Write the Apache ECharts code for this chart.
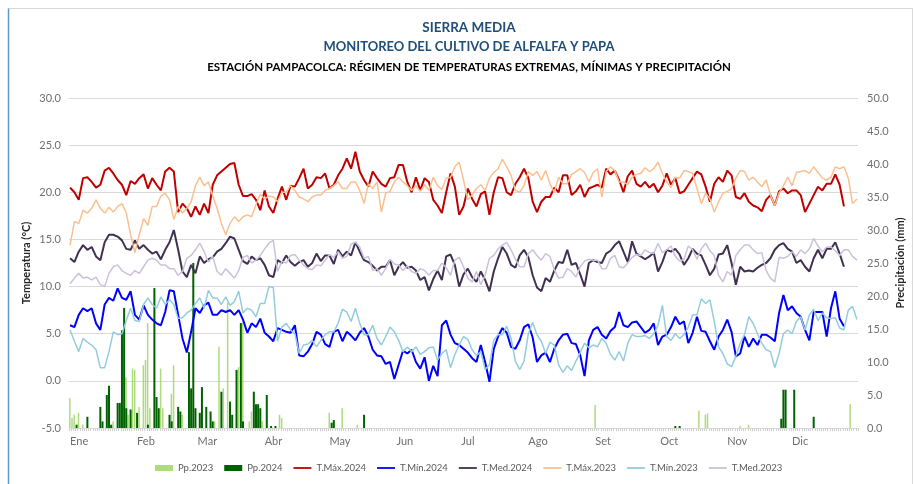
<!DOCTYPE html>
<html>
<head>
<meta charset="utf-8">
<title>Sierra Media - Estación Pampacolca</title>
<script src="https://cdn.jsdelivr.net/npm/echarts@6/dist/echarts.min.js"></script>
<style>
  html, body { margin: 0; padding: 0; background: #fff; }
  #chart { width: 914px; height: 484px; }
</style>
</head>
<body>
<div id="chart"></div>
<script>
const FONT = 'Lato, "Open Sans", sans-serif'

const months = ['Ene', 'Feb', 'Mar', 'Abr', 'May', 'Jun', 'Jul', 'Ago', 'Set', 'Oct', 'Nov', 'Dic']
const monthDays = [31, 28, 31, 30, 31, 30, 31, 31, 30, 31, 30, 31]
const tempTicks = [-5, 0, 5, 10, 15, 20, 25, 30]
const precipTicks = [0, 5, 10, 15, 20, 25, 30, 35, 40, 45, 50]

// temperatures (°C) every 2 days, starting on 1 Ene
const STEP = 2
const tmax2024 = [
  20.5, 20.0, 19.2, 21.5, 21.6, 21.1, 20.5, 20.8, 22.3, 22.6, 22.0, 21.3, 20.8, 19.7, 21.2, 20.9,
  21.5, 21.9, 20.4, 21.5, 20.8, 20.2, 22.2, 22.6, 22.2, 17.9, 18.8, 18.3, 17.4, 18.5, 17.6, 18.8,
  17.8, 20.8, 21.8, 22.2, 22.6, 23.0, 23.1, 20.8, 19.6, 19.6, 19.8, 19.2, 18.1, 20.2, 18.5, 17.8,
  19.3, 20.6, 19.2, 20.7, 20.6, 21.5, 22.5, 20.4, 20.8, 21.6, 21.5, 22.0, 20.4, 20.8, 21.8, 22.5,
  23.6, 22.5, 24.3, 22.2, 21.3, 20.6, 22.2, 21.5, 20.9, 20.6, 21.5, 21.6, 22.9, 22.9, 21.1, 20.0,
  21.6, 20.2, 21.5, 21.1, 19.2, 18.6, 17.8, 20.0, 22.0, 20.6, 17.6, 18.5, 20.4, 19.3, 18.5,
  19.8, 20.1, 17.6, 20.0, 21.6, 21.5, 20.0, 19.7, 20.9, 21.6, 22.5, 21.5, 19.0, 17.9, 19.0, 19.5,
  19.5, 20.5, 20.0, 21.8, 21.8, 19.7, 20.1, 20.8, 19.5, 20.4, 20.6, 20.8, 20.5, 22.5, 21.9, 22.3,
  21.3, 20.0, 21.7, 22.3, 20.9, 20.6, 21.1, 20.5, 20.9, 20.0, 20.7, 22.0, 20.8,
  21.5, 19.9, 20.1, 20.8, 21.5, 22.2, 21.9, 20.6, 19.0, 20.9, 21.6, 21.1, 22.3, 21.8, 19.5, 19.3,
  19.9, 19.0, 18.6, 18.4, 18.0, 19.2, 19.7, 18.6, 20.1, 20.4, 19.9, 20.2, 20.2, 19.7, 17.9, 18.8,
  19.7, 20.6, 20.2, 20.9, 20.9, 21.9, 20.8, 18.5
]
const tmin2024 = [
  5.9, 5.7, 7.0, 7.7, 7.4, 7.7, 6.1, 5.4, 8.1, 8.8, 8.5, 9.8, 8.8, 8.6, 9.5, 7.0,
  6.5, 8.0, 7.0, 6.5, 6.1, 5.9, 7.3, 9.6, 9.5, 7.0, 4.5, 3.0, 5.2, 7.7, 7.2, 8.0,
  8.3, 7.0, 7.0, 7.5, 7.3, 7.5, 7.0, 7.5, 6.5, 5.1, 6.1, 5.7, 6.6, 5.1, 4.7, 4.2,
  5.6, 5.4, 5.2, 5.1, 5.9, 2.7, 2.6, 3.1, 3.9, 5.2, 4.9, 3.9, 3.6, 5.2, 5.4, 4.2,
  5.2, 4.8, 4.3, 5.1, 5.6, 4.7, 3.3, 2.7, 2.6, 1.8, 2.0, 0.2, 1.7, 3.2, 2.9, 3.3,
  2.0, 1.3, 2.5, 0.0, 1.6, 0.5, 5.9, 6.4, 4.9, 4.0, 3.8, 3.4, 3.0, 2.4, 2.0,
  3.8, 2.0, -0.1, 3.4, 4.7, 5.6, 5.1, 3.6, 3.4, 4.3, 5.7, 6.0, 4.6, 2.0, 2.7, 3.0,
  2.0, 3.4, 4.3, 4.9, 5.0, 4.0, 3.9, 2.7, 0.5, 4.3, 5.4, 5.7, 4.9, 4.5, 5.3, 5.7,
  7.3, 5.9, 5.7, 6.2, 6.3, 5.7, 5.1, 5.4, 6.1, 3.8, 4.7, 4.9, 5.7,
  6.8, 6.0, 6.3, 4.0, 5.1, 6.8, 5.3, 5.2, 4.2, 3.3, 4.7, 5.4, 6.5, 5.2, 2.6, 2.9,
  4.7, 3.6, 4.5, 3.8, 4.9, 4.9, 4.6, 4.2, 7.2, 9.1, 7.5, 7.9, 7.2, 6.8, 5.4, 4.3,
  7.3, 7.3, 7.3, 4.7, 7.7, 9.5, 6.6, 5.8
]
const tmed2024 = [
  13.0, 12.6, 13.7, 14.4, 13.9, 14.2, 13.2, 12.8, 14.7, 15.5, 15.5, 15.3, 14.9, 14.0, 13.9, 14.9,
  14.0, 14.4, 13.9, 13.5, 13.7, 12.9, 13.9, 14.7, 16.0, 13.9, 11.6, 11.0, 12.3, 11.4, 13.2, 12.5,
  12.9, 13.1, 13.7, 14.0, 14.6, 15.3, 15.1, 13.9, 12.7, 12.4, 13.2, 12.8, 13.0, 12.3, 11.2, 11.0,
  12.8, 12.5, 13.3, 12.6, 12.2, 12.6, 12.8, 12.1, 12.5, 13.5, 12.7, 13.3, 13.3, 12.4, 13.9, 13.2,
  13.7, 13.3, 14.7, 13.7, 12.8, 12.6, 12.2, 11.7, 12.1, 12.1, 12.8, 11.2, 12.1, 12.6, 12.0, 12.1,
  11.7, 10.7, 11.0, 9.6, 10.8, 11.7, 10.7, 13.2, 13.4, 12.3, 10.0, 11.3, 11.9, 11.0, 10.5,
  11.6, 10.7, 9.5, 11.6, 13.0, 14.2, 13.5, 12.3, 12.0, 13.3, 13.9, 13.1, 11.2, 9.9, 9.5, 10.9,
  10.5, 11.7, 12.6, 12.5, 13.9, 12.3, 12.5, 11.3, 10.0, 12.5, 12.8, 12.6, 12.5, 13.5, 13.8, 14.4,
  14.8, 13.7, 12.6, 14.8, 13.5, 13.2, 12.9, 13.2, 13.6, 11.6, 12.6, 13.9, 13.7,
  14.0, 13.4, 12.3, 13.0, 14.0, 13.5, 13.3, 12.3, 11.2, 11.9, 13.4, 13.5, 14.4, 12.5, 10.2, 12.1,
  11.6, 11.7, 11.6, 12.0, 12.3, 12.5, 13.0, 13.9, 14.4, 14.6, 14.0, 13.7, 12.5, 12.8, 12.1, 11.6,
  13.0, 13.9, 13.0, 14.0, 14.0, 14.7, 13.5, 12.1
]
const tmax2023 = [
  14.4, 16.9, 16.7, 18.1, 17.8, 18.3, 19.2, 18.3, 17.8, 18.4, 17.9, 18.5, 18.8, 17.8, 15.5, 13.6,
  15.5, 17.2, 16.5, 18.5, 18.5, 19.6, 19.9, 19.2, 17.1, 18.5, 17.8, 18.3, 19.0, 20.7, 21.6, 20.7,
  21.1, 19.6, 18.3, 16.7, 15.5, 16.7, 17.4, 16.9, 17.4, 17.6, 17.4, 18.7, 19.8, 19.3, 19.6, 19.5,
  19.0, 20.0, 20.0, 20.7, 20.2, 19.5, 19.3, 19.0, 19.5, 19.7, 19.7, 20.2, 20.4, 20.7, 21.1, 20.4,
  20.4, 21.1, 21.1, 20.2, 18.8, 20.9, 20.4, 21.1, 17.9, 19.9, 20.1, 21.1, 21.6, 21.1, 20.7, 20.2,
  20.7, 20.1, 20.8, 20.2, 21.6, 20.7, 20.3, 21.5, 21.6, 22.7, 23.2, 21.3, 19.2, 19.7, 20.4,
  20.8, 20.2, 21.5, 22.1, 22.5, 23.5, 22.7, 21.8, 20.2, 20.0, 20.7, 22.2, 21.8, 22.2, 21.3, 22.3,
  20.9, 20.0, 21.6, 20.9, 20.9, 21.9, 22.2, 22.5, 22.1, 21.1, 22.1, 22.5, 19.5, 22.2, 22.7, 22.3,
  21.1, 21.1, 20.8, 21.6, 21.9, 22.0, 22.6, 22.2, 22.5, 23.2, 22.0, 21.1, 20.5,
  21.6, 21.5, 22.3, 22.2, 22.0, 20.4, 18.8, 19.9, 19.3, 17.9, 19.0, 19.9, 20.1, 20.4, 21.5, 22.3,
  22.2, 21.3, 21.6, 21.1, 20.6, 21.3, 19.7, 18.6, 19.9, 20.7, 21.6, 20.7, 22.1, 22.2, 22.3, 22.0,
  22.7, 22.1, 21.5, 21.3, 21.6, 22.7, 22.5, 22.7, 21.5, 18.8, 19.3
]
const tmin2023 = [
  5.4, 4.2, 3.1, 4.5, 4.1, 3.8, 3.3, 1.4, 1.4, 3.1, 5.2, 4.9, 5.0, 6.4, 7.7, 6.4,
  6.3, 8.1, 8.8, 8.1, 7.7, 8.9, 8.1, 8.6, 8.1, 6.6, 6.7, 7.2, 7.5, 8.2, 8.8, 7.7,
  9.6, 8.8, 8.8, 8.1, 8.9, 8.0, 8.4, 9.5, 7.2, 7.7, 7.5, 6.8, 8.2, 8.2, 10.0, 9.9,
  4.2, 5.7, 6.1, 5.4, 5.0, 2.9, 3.8, 3.9, 4.3, 3.6, 4.3, 4.9, 5.2, 5.2, 6.1, 7.6,
  7.3, 6.3, 7.7, 6.1, 4.9, 4.9, 5.9, 4.5, 3.8, 4.7, 5.7, 5.2, 4.3, 3.1, 3.6, 3.1,
  3.6, 2.8, 3.1, 3.5, 3.6, 2.2, 2.9, 3.3, 1.4, 2.8, 3.8, 4.7, 4.4, 3.3, 2.7,
  3.1, 1.2, 1.7, 4.3, 4.9, 4.9, 5.8, 4.5, 2.1, 1.2, 2.1, 5.0, 6.2, 4.9, 4.2, 2.9,
  4.1, 3.8, 1.7, 0.9, 1.6, 1.1, 2.1, 3.0, 4.0, 3.5, 3.8, 3.6, 4.5, 4.0, 2.8, 2.2,
  3.1, 2.1, 4.0, 4.9, 4.7, 4.7, 4.8, 4.5, 5.0, 5.9, 8.0, 4.7, 4.3,
  5.0, 4.5, 4.9, 5.7, 7.0, 7.0, 8.7, 8.2, 8.6, 6.3, 3.6, 2.9, 1.8, 1.5, 2.6, 4.0,
  4.9, 6.8, 6.1, 5.0, 4.0, 3.3, 3.1, 1.4, 2.9, 5.0, 5.4, 5.0, 6.3, 6.8, 5.4, 7.0,
  7.6, 6.4, 7.2, 6.7, 6.6, 6.7, 5.6, 5.4, 7.5, 7.9, 6.5
]
const tmed2023 = [
  10.3, 10.9, 11.4, 10.9, 11.0, 10.7, 11.0, 10.2, 10.0, 11.4, 12.1, 12.3, 11.7, 11.4, 11.2, 11.7,
  11.4, 12.1, 12.8, 13.0, 12.8, 12.3, 12.3, 11.9, 11.9, 11.2, 11.6, 13.0, 13.3, 13.9, 14.6, 13.7,
  12.6, 13.2, 11.6, 11.2, 11.9, 11.4, 10.9, 11.7, 13.1, 13.3, 12.5, 12.8, 13.3, 14.0, 14.6, 14.9,
  11.6, 12.7, 12.5, 13.3, 13.4, 12.8, 12.3, 11.9, 11.8, 12.3, 12.2, 12.8, 13.4, 13.1, 13.7, 13.0,
  13.2, 14.5, 14.7, 14.2, 13.0, 13.2, 11.7, 11.9, 11.2, 11.9, 12.9, 12.4, 12.3, 11.7, 12.2, 11.6,
  11.4, 11.9, 11.7, 11.2, 11.7, 11.7, 12.5, 12.0, 11.2, 12.8, 13.1, 12.1, 10.9, 10.5, 11.6,
  10.2, 11.2, 13.0, 13.3, 14.0, 14.4, 14.7, 13.9, 12.9, 12.1, 12.1, 13.5, 13.9, 13.3, 12.8, 13.5,
  13.2, 11.8, 10.9, 11.0, 11.9, 11.6, 11.0, 12.1, 12.7, 12.9, 12.8, 12.8, 11.9, 11.9, 13.0, 13.3,
  12.1, 12.0, 12.5, 13.1, 13.4, 13.3, 13.9, 13.6, 13.5, 14.6, 13.6, 13.9, 14.3,
  13.2, 12.7, 12.9, 14.3, 13.9, 12.9, 14.0, 14.6, 13.8, 13.3, 11.2, 10.5, 11.6, 11.2, 13.3, 13.9,
  14.4, 14.4, 13.9, 13.5, 13.6, 11.7, 10.9, 10.5, 13.1, 13.0, 13.2, 13.7, 13.2, 13.9, 13.5, 14.0,
  15.1, 14.3, 13.7, 14.2, 14.2, 13.8, 13.3, 13.9, 13.9, 13.2, 12.8
]

// daily rain (mm) as [day of year, mm]; days not listed had no rain
const pp2023 = [
  [0, 4.5], [1, 1.5], [2, 2.0], [4, 2.3], [6, 0.5], [20, 1.0], [26, 7.7], [27, 2.0], [29, 9.0],
  [30, 8.8], [32, 3.2], [34, 9.5], [35, 10.3], [36, 15.9], [37, 3.0], [42, 9.0], [43, 3.0],
  [47, 5.2], [48, 9.5], [52, 2.0], [55, 1.0], [67, 1.0], [69, 12.3], [71, 6.0], [73, 19.0],
  [78, 9.2], [80, 16.0], [83, 1.0], [84, 2.5], [89, 1.0], [97, 2.0], [98, 1.5], [120, 2.3],
  [126, 3.0], [133, 0.5], [243, 3.5], [291, 2.6], [294, 2.0], [295, 2.2], [310, 0.3], [314, 0.5],
  [361, 3.6]
]
const pp2024 = [
  [3, 0.5], [8, 1.7], [14, 3.2], [15, 1.0], [17, 5.0], [18, 6.4], [19, 0.5], [22, 3.8], [23, 3.8],
  [24, 14.8], [25, 18.2], [26, 3.0], [28, 2.8], [31, 2.3], [36, 0.5], [39, 21.2], [40, 4.7],
  [41, 3.0], [46, 2.0], [47, 1.0], [50, 3.2], [51, 2.5], [55, 11.5], [56, 6.0], [57, 25.0],
  [58, 3.0], [60, 2.3], [61, 6.2], [63, 3.2], [65, 2.5], [66, 1.0], [70, 5.5], [74, 4.0], [75, 2.0],
  [77, 8.8], [79, 15.9], [80, 1.0], [85, 5.5], [86, 3.6], [87, 3.6], [88, 3.0], [91, 5.0],
  [93, 0.3], [95, 0.3], [121, 0.8], [122, 1.2], [136, 2.0], [280, 0.3], [282, 0.3], [329, 1.4],
  [330, 5.8], [331, 5.8], [335, 5.8], [344, 1.7]
]

// one category per day of the year
const days = []
const monthLabelAt = {}
monthDays.forEach((n, m) => {
  monthLabelAt[days.length] = months[m]
  for (let d = 1; d <= n; d++) days.push(d + '-' + months[m])
})

function daily(pairs) {
  const out = days.map(() => null)
  pairs.forEach(([d, v]) => { out[d] = v })
  return out
}
const every = (arr) => arr.map((v, i) => [i * STEP, v])

const lineSeries = (name, data, color, width) => ({
  name,
  type: 'line',
  data: every(data),
  symbol: 'none',
  lineStyle: { color, width },
  itemStyle: { color },
  z: 3
})

const LINE_ICON = 'path://M0,0 L20,0 L20,2 L0,2 Z'
const titleStyle = (text, size, fill) => ({
  text, font: 'bold ' + size + 'px ' + FONT, fill,
  align: 'center', verticalAlign: 'middle', textAlign: 'center', textVerticalAlign: 'middle'
})

const chart = echarts.init(document.getElementById('chart'))

chart.setOption({
  animation: false,
  backgroundColor: '#fff',
  textStyle: { fontFamily: FONT },
  graphic: [
    { type: 'rect', shape: { x: 8.5, y: 8.5, width: 904, height: 480 }, style: { fill: 'none', stroke: '#d9d9d9', lineWidth: 1 } },
    { type: 'line', shape: { x1: 8.5, y1: 8.5, x2: 8.5, y2: 484 }, style: { stroke: '#5b9bd5', lineWidth: 1.5 } },
    { type: 'text', x: 469, y: 28, style: titleStyle('SIERRA MEDIA', 13.5, '#1F4E79') },
    { type: 'text', x: 469, y: 47, style: titleStyle('MONITOREO DEL CULTIVO DE ALFALFA Y PAPA', 13, '#1F4E79') },
    { type: 'text', x: 469, y: 67, style: titleStyle('ESTACIÓN PAMPACOLCA: RÉGIMEN DE TEMPERATURAS EXTREMAS, MÍNIMAS Y PRECIPITACIÓN', 11.5, '#000') }
  ],
  grid: { left: 69, right: 50, top: 98, bottom: 56 },
  legend: {
    top: 458,
    left: 150,
    itemWidth: 18,
    itemHeight: 6,
    itemGap: 11,
    textStyle: { color: '#595959', fontSize: 9.5, fontFamily: FONT },
    data: [
      { name: 'Pp.2023', icon: 'rect' },
      { name: 'Pp.2024', icon: 'rect' },
      { name: 'T.Máx.2024', icon: LINE_ICON },
      { name: 'T.Mín.2024', icon: LINE_ICON },
      { name: 'T.Med.2024', icon: LINE_ICON },
      { name: 'T.Máx.2023', icon: LINE_ICON },
      { name: 'T.Mín.2023', icon: LINE_ICON },
      { name: 'T.Med.2023', icon: LINE_ICON }
    ]
  },
  xAxis: {
    type: 'category',
    data: days,
    axisLine: { onZero: false, lineStyle: { color: '#d9d9d9' } },
    axisTick: { show: true, interval: 0, length: 3, lineStyle: { color: '#d0d0d0' } },
    axisLabel: {
      interval: (i) => monthLabelAt[i] !== undefined,
      formatter: (v, i) => monthLabelAt[i] || '',
      align: 'left',
      color: '#6f6f6f',
      fontSize: 11,
      margin: 8
    },
    splitLine: { show: false }
  },
  yAxis: [
    {
      type: 'value',
      min: tempTicks[0],
      max: tempTicks[tempTicks.length - 1],
      interval: 5,
      position: 'left',
      name: 'Temperatura (°C)',
      nameLocation: 'middle',
      nameRotate: 90,
      nameGap: 37,
      nameMoveOverlap: false,
      nameTextStyle: { fontWeight: 'bold', fontSize: 11, color: '#262626' },
      axisLine: { show: false },
      axisTick: { show: false },
      axisLabel: { formatter: (v) => v.toFixed(1), color: '#6f6f6f', fontSize: 11, margin: 8 },
      splitLine: { lineStyle: { color: '#d9d9d9' } }
    },
    {
      type: 'value',
      min: precipTicks[0],
      max: precipTicks[precipTicks.length - 1],
      interval: 5,
      position: 'right',
      name: 'Precipitación (mm)',
      nameLocation: 'middle',
      nameRotate: 90,
      nameGap: 37,
      nameMoveOverlap: false,
      nameTextStyle: { fontWeight: 'bold', fontSize: 11, color: '#262626' },
      axisLine: { show: false },
      axisTick: { show: false },
      axisLabel: { formatter: (v) => v.toFixed(1), color: '#6f6f6f', fontSize: 11, margin: 9 },
      splitLine: { show: false }
    }
  ],
  series: [
    { name: 'Pp.2023', type: 'bar', yAxisIndex: 1, data: daily(pp2023), barWidth: 1.5, barGap: '-100%', itemStyle: { color: '#92D050', opacity: 0.75 } },
    { name: 'Pp.2024', type: 'bar', yAxisIndex: 1, data: daily(pp2024), barWidth: 2, itemStyle: { color: '#006100' } },
    lineSeries('T.Máx.2024', tmax2024, '#C00000', 2),
    lineSeries('T.Mín.2024', tmin2024, '#0000FF', 2),
    lineSeries('T.Med.2024', tmed2024, '#403152', 2),
    lineSeries('T.Máx.2023', tmax2023, '#FAC090', 1.5),
    lineSeries('T.Mín.2023', tmin2023, '#93CDDD', 1.5),
    lineSeries('T.Med.2023', tmed2023, '#CCC1DA', 1.5)
  ]
})

window.addEventListener('resize', () => chart.resize())
</script>
</body>
</html>
